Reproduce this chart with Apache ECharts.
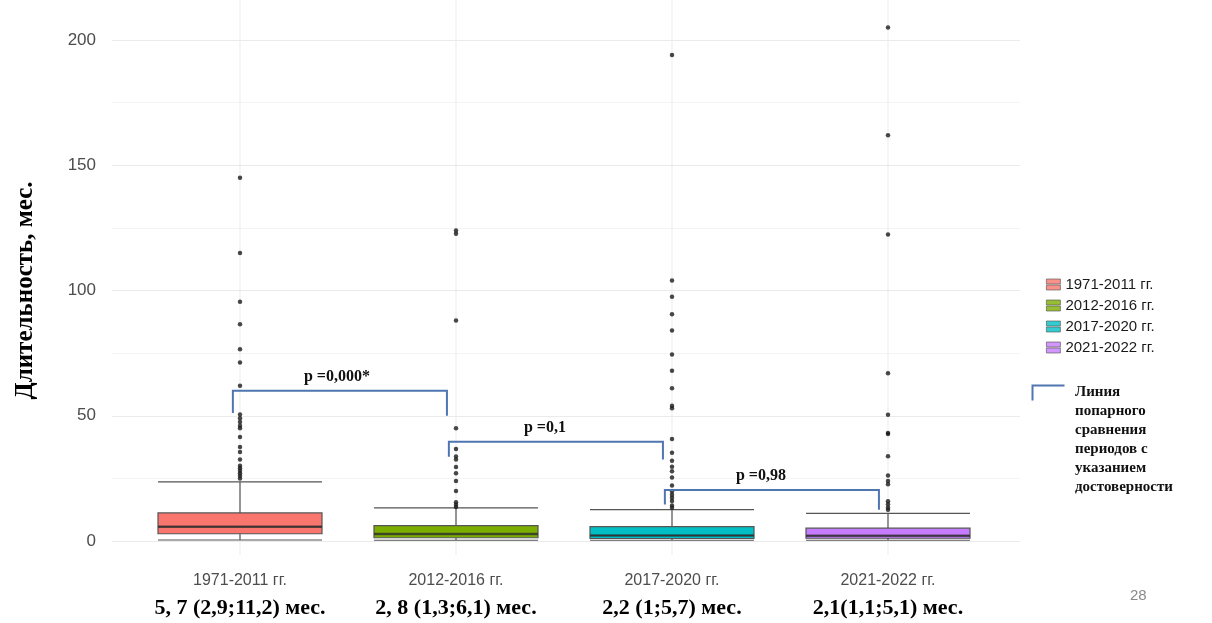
<!DOCTYPE html>
<html>
<head>
<meta charset="utf-8">
<script src="https://cdn.jsdelivr.net/npm/echarts@6/dist/echarts.min.js"></script>
<style>
  html, body { margin: 0; padding: 0; background: #fff; }
  #chart { width: 1212px; height: 623px; }
</style>
</head>
<body>
<div id="chart"></div>
<script>
// периоды и подписи под осью
const periods = ['1971-2011 гг.', '2012-2016 гг.', '2017-2020 гг.', '2021-2022 гг.'];
const summaryLabels = ['5, 7 (2,9;11,2) мес.', '2, 8 (1,3;6,1) мес.', '2,2 (1;5,7) мес.', '2,1(1,1;5,1) мес.'];
const periodColors = ['#F8766D', '#7CAE00', '#00BFC4', '#C77CFF'];

// статистики боксплотов
const boxMin = [0.4, 0.3, 0.3, 0.3];
const boxQ1 = [2.9, 1.3, 1.0, 1.1];
const boxMedian = [5.7, 2.8, 2.2, 2.1];
const boxQ3 = [11.2, 6.1, 5.7, 5.1];
const boxMax = [23.6, 13.2, 12.5, 11.0];

// выбросы
const outliers1971 = [145, 115, 95.5, 86.5, 76.5, 71.3, 62, 50.5, 49, 47.5, 46, 45, 41.5, 37.5, 35.5, 32.5, 30, 29, 28, 27, 26, 25];
const outliers2012 = [124, 122.7, 88, 45, 36.7, 33.7, 32.5, 29.5, 27, 24, 20, 15.5, 14.5, 13.6];
const outliers2017 = [194, 104, 97.5, 90.5, 84, 74.5, 68, 61, 54, 53, 40.7, 35.2, 32, 29.6, 27.8, 25.3, 22.2, 19.8, 18.5, 17.3, 16, 14.2, 13.3];
const outliers2021 = [205, 162, 122.4, 67, 50.4, 43.1, 42.7, 33.8, 26.1, 24, 22.7, 15.9, 14.7, 13.4, 12.5];
const outlierLists = [outliers1971, outliers2012, outliers2017, outliers2021];

// попарные сравнения
const pairFrom = [0, 1, 2];
const pairTo = [1, 2, 3];
const pairLevel = [60, 39.6, 20.4];
const pairLeftEnd = [51.1, 33.6, 14.6];
const pairRightEnd = [50, 32.5, 12.5];
const pairP = ['p =0,000*', 'p =0,1', 'p =0,98'];

const yTicks = { min: 0, max: 200, interval: 50 };

// данные для серий
const boxData = periods.map((p, i) => ({
    value: [boxMin[i], boxQ1[i], boxMedian[i], boxQ3[i], boxMax[i]],
    itemStyle: { color: periodColors[i] }
}));
const medianData = periods.map((p, i) => [i, boxMedian[i]]);
const outlierData = [];
outlierLists.forEach((list, i) => list.forEach(v => outlierData.push([i, v])));
const pairData = pairFrom.map((f, i) => [f, pairTo[i], pairLevel[i], pairLeftEnd[i], pairRightEnd[i]]);

const serif = '"Liberation Serif", "DejaVu Serif", serif';
const sans = '"Liberation Sans", Arial, sans-serif';
const bracketColor = '#4f76b0';

const chart = echarts.init(document.getElementById('chart'));

const option = {
    backgroundColor: '#fff',
    animation: false,
    grid: [
        { left: 112, right: 192, top: 40, bottom: 82, outerBoundsMode: 'none', containLabel: false },
        { left: 132, right: 216, top: 40, bottom: 82, outerBoundsMode: 'none', containLabel: false }
    ],
    xAxis: [
        { gridIndex: 0, type: 'value', min: 0, max: 1, show: false },
        {
            gridIndex: 1, type: 'category', data: periods,
            axisLine: { show: false }, axisTick: { show: false }, splitLine: { show: false },
            axisLabel: {
                margin: 31,
                color: '#4d4d4d', fontFamily: sans, fontSize: 16, lineHeight: 18,
                formatter: (v, i) => v + '\n{s|' + summaryLabels[i] + '}',
                rich: {
                    s: { fontFamily: serif, fontWeight: 'bold', fontSize: 22, color: '#000', lineHeight: 36 }
                }
            }
        }
    ],
    yAxis: [
        {
            gridIndex: 0, type: 'value', min: yTicks.min, max: yTicks.max, interval: yTicks.interval,
            name: 'Длительность, мес.', nameLocation: 'middle', nameGap: 74,
            nameTextStyle: { fontFamily: serif, fontWeight: 'bold', fontSize: 25, color: '#000' },
            axisLine: { show: false }, axisTick: { show: false },
            axisLabel: { color: '#4d4d4d', fontFamily: sans, fontSize: 17, margin: 16 },
            splitLine: { lineStyle: { color: '#ebebeb', width: 1 } },
            minorTick: { show: false, splitNumber: 2 },
            minorSplitLine: { show: true, lineStyle: { color: '#f4f4f4', width: 1 } }
        },
        { gridIndex: 1, type: 'value', min: yTicks.min, max: yTicks.max, show: false }
    ],
    legend: {
        orient: 'vertical', left: 1041, top: 272,
        itemWidth: 14, itemHeight: 11, itemGap: 6,
        textStyle: { fontFamily: sans, fontSize: 15, color: '#1a1a1a', padding: [0, 0, 0, 0] },
        data: periods.map((p, i) => ({
            name: p,
            icon: 'path://M0,0H14V5H0Z M0,6H14V11H0Z',
            itemStyle: { color: periodColors[i], borderColor: '#555', borderWidth: 0.8 }
        }))
    },
    series: [
        // вертикальные линии сетки по центрам категорий
        {
            type: 'custom', xAxisIndex: 1, yAxisIndex: 1, z: 0, silent: true,
            data: periods.map((p, i) => [i, 0]),
            renderItem: (params, api) => {
                const c = api.coord([api.value(0), 0]);
                const cs = params.coordSys;
                return {
                    type: 'line',
                    shape: { x1: c[0], y1: 0, x2: c[0], y2: cs.y + cs.height + 14 },
                    style: { stroke: '#ebebeb', lineWidth: 1 }
                };
            }
        },
        // фиктивные серии для легенды
        ...periods.map((p, i) => ({
            name: p, type: 'scatter', xAxisIndex: 1, yAxisIndex: 1, data: [],
            itemStyle: { color: periodColors[i] }
        })),
        {
            type: 'boxplot', xAxisIndex: 1, yAxisIndex: 1, z: 3,
            boxWidth: [164, 164],
            itemStyle: { borderColor: '#555', borderWidth: 1.2 },
            data: boxData
        },
        {
            type: 'custom', xAxisIndex: 1, yAxisIndex: 1, z: 4, silent: true,
            data: medianData,
            renderItem: (params, api) => {
                const c = api.coord([api.value(0), api.value(1)]);
                const half = 82;
                return {
                    type: 'line',
                    shape: { x1: c[0] - half, y1: c[1], x2: c[0] + half, y2: c[1] },
                    style: { stroke: 'rgba(35,35,35,0.65)', lineWidth: 2.5 }
                };
            }
        },
        {
            type: 'scatter', xAxisIndex: 1, yAxisIndex: 1, z: 5, clip: false,
            symbolSize: 4.5, itemStyle: { color: '#1a1a1a' },
            data: outlierData
        },
        {
            type: 'custom', xAxisIndex: 1, yAxisIndex: 1, z: 6, silent: true,
            data: pairData,
            renderItem: (params, api) => {
                const bw = api.size([1, 0])[0];
                const a = api.coord([api.value(0), api.value(2)]);
                const b = api.coord([api.value(1), api.value(2)]);
                const xl = a[0] - 0.033 * bw;
                const xr = b[0] - 0.042 * bw;
                const yl = api.coord([api.value(0), api.value(3)])[1];
                const yr = api.coord([api.value(1), api.value(4)])[1];
                const shift = params.dataIndex === 0 ? -3 : -11;
                return {
                    type: 'group',
                    children: [
                        {
                            type: 'polyline',
                            shape: { points: [[xl, yl], [xl, a[1]], [xr, a[1]], [xr, yr]] },
                            style: { stroke: bracketColor, lineWidth: 2, fill: null }
                        },
                        {
                            type: 'text',
                            x: (xl + xr) / 2 + shift, y: a[1] - 6,
                            style: {
                                text: pairP[params.dataIndex],
                                fontFamily: serif, fontWeight: 'bold', fontSize: 16, fill: '#111',
                                align: 'center', verticalAlign: 'bottom'
                            }
                        }
                    ]
                };
            }
        }
    ],
    graphic: [
        {
            type: 'polyline', left: 1030, top: 383, silent: true,
            shape: { points: [[0, 15], [0, 0], [32, 0]] },
            style: { stroke: bracketColor, lineWidth: 2, fill: null }
        },
        {
            type: 'text', left: 1075, top: 383, silent: true,
            style: {
                text: 'Линия\nпопарного\nсравнения\nпериодов с\nуказанием\nдостоверности',
                fontFamily: serif, fontWeight: 'bold', fontSize: 15, fill: '#111', lineHeight: 19
            }
        },
        {
            type: 'text', left: 1130, top: 588, silent: true,
            style: { text: '28', fontFamily: sans, fontSize: 15, fill: '#8a8a8a' }
        }
    ]
};

chart.setOption(option);
</script>
</body>
</html>
